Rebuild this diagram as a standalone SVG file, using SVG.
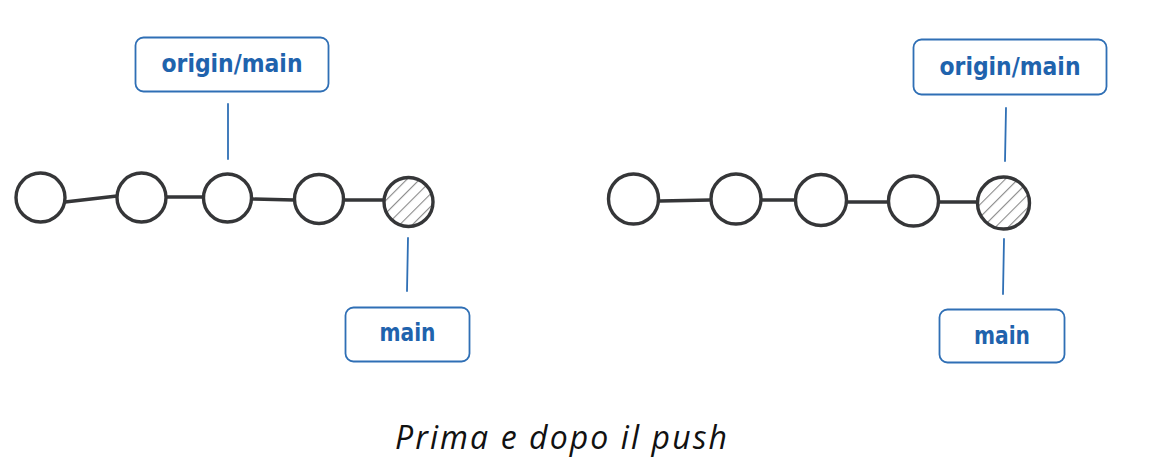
<svg xmlns="http://www.w3.org/2000/svg" width="1152" height="470" viewBox="0 0 1152 470">
<style>
.bg{fill:#ffffff}
.commit{fill:#ffffff;stroke:#353638;stroke-width:3.4}
.head{fill:url(#hatch);stroke:#353638;stroke-width:3.4}
.edge{stroke:#353638;stroke-width:3.4;fill:none;stroke-linecap:round}
.ptr{stroke:#2f6fb5;stroke-width:1.8;fill:none;stroke-linecap:round}
.box{fill:#ffffff;stroke:#2f6fb5;stroke-width:1.8}
.lbl{font-family:"DejaVu Sans",sans-serif;font-size:24px;fill:#1f63ad;text-anchor:middle;dominant-baseline:central;font-weight:bold}
.cap{font-family:"Open Sans","Liberation Sans",sans-serif;font-style:italic;font-size:32px;fill:#111111;text-anchor:middle}
</style>
<defs>
<pattern id="hatch" patternUnits="userSpaceOnUse" width="9" height="9" patternTransform="rotate(45)">
<rect width="9" height="9" fill="#ffffff"/>
<line x1="0" y1="0" x2="0" y2="9" stroke="#8a8a8a" stroke-width="2.2"/>
</pattern>
</defs>
<rect class="bg" width="1152" height="470"/>
<g id="connectors">
<line class="edge" x1="65" y1="202" x2="117" y2="196"/>
<line class="edge" x1="166" y1="197" x2="203" y2="197"/>
<line class="edge" x1="252" y1="199" x2="294" y2="200"/>
<line class="edge" x1="344" y1="200" x2="384" y2="200"/>
<line class="ptr" x1="228" y1="104" x2="228" y2="159"/>
<line class="ptr" x1="408" y1="238" x2="407" y2="291"/>
<line class="edge" x1="660" y1="201" x2="710" y2="200"/>
<line class="edge" x1="762" y1="200" x2="795" y2="200"/>
<line class="edge" x1="847" y1="202" x2="889" y2="202"/>
<line class="edge" x1="939" y1="202" x2="977" y2="202"/>
<line class="ptr" x1="1006" y1="108" x2="1005" y2="161"/>
<line class="ptr" x1="1004" y1="239" x2="1003" y2="294"/>
</g>
<g id="left-c1"><circle class="commit" cx="40.5" cy="197.5" r="24.5"/></g>
<g id="left-c2"><circle class="commit" cx="141.5" cy="197.5" r="24.5"/></g>
<g id="left-c3"><circle class="commit" cx="227.5" cy="198" r="24"/></g>
<g id="left-c4"><circle class="commit" cx="319" cy="199" r="24.5"/></g>
<g id="left-c5"><circle class="head" cx="408.5" cy="202" r="24.5"/></g>
<g id="left-origin-main"><rect class="box" x="135.5" y="37.5" width="193" height="54" rx="8"/><text class="lbl" x="232" y="64" textLength="141" lengthAdjust="spacingAndGlyphs">origin/main</text></g>
<g id="left-main"><rect class="box" x="345.5" y="307.5" width="124" height="54" rx="8"/><text class="lbl" x="407.5" y="333" textLength="56" lengthAdjust="spacingAndGlyphs">main</text></g>
<g id="right-c1"><circle class="commit" cx="633.5" cy="199" r="25"/></g>
<g id="right-c2"><circle class="commit" cx="736" cy="199" r="25"/></g>
<g id="right-c3"><circle class="commit" cx="821" cy="200" r="25.5"/></g>
<g id="right-c4"><circle class="commit" cx="913.5" cy="201" r="25"/></g>
<g id="right-c5"><circle class="head" cx="1003.5" cy="203" r="26"/></g>
<g id="right-origin-main"><rect class="box" x="913.5" y="39.5" width="193" height="55" rx="8"/><text class="lbl" x="1010" y="67" textLength="141" lengthAdjust="spacingAndGlyphs">origin/main</text></g>
<g id="right-main"><rect class="box" x="939.5" y="309.5" width="125" height="53" rx="8"/><text class="lbl" x="1002" y="336" textLength="56" lengthAdjust="spacingAndGlyphs">main</text></g>
<text class="cap" x="561" y="449" textLength="332" lengthAdjust="spacing">Prima e dopo il push</text>
</svg>
